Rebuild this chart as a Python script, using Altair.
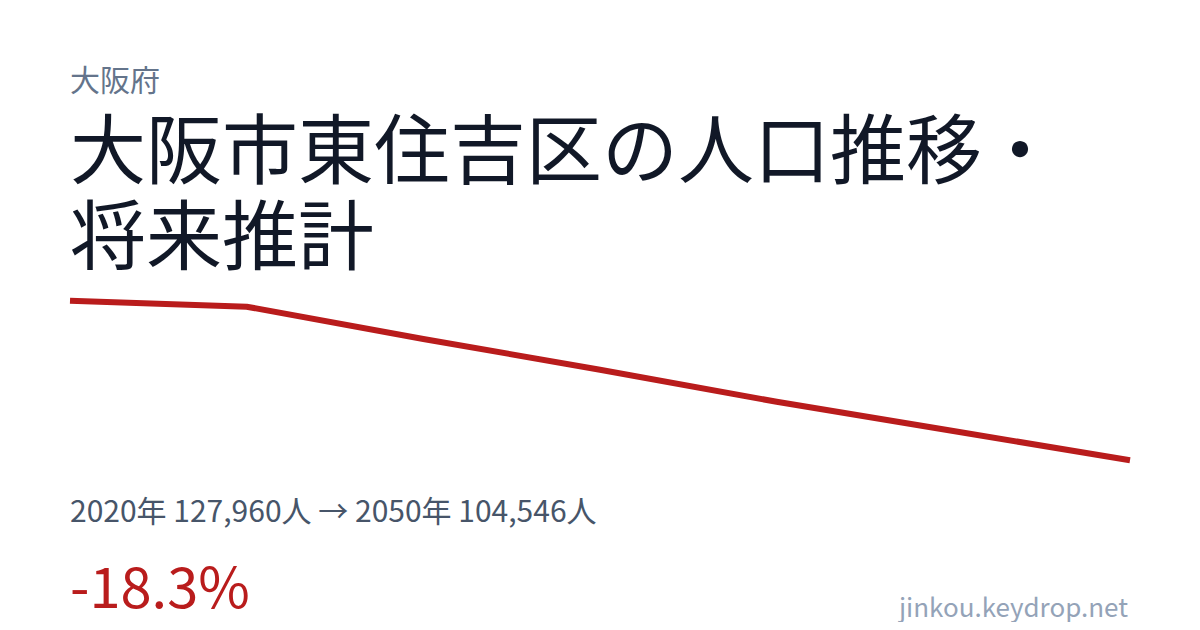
import altair as alt
import pandas as pd

# ---- data ----
years = [2020, 2025, 2030, 2035, 2040, 2045, 2050]
population = [127960, 127080, 122340, 117840, 113130, 108850, 104546]

prefecture = "大阪府"
title_lines = ["大阪市東住吉区の人口推移・", "将来推計"]
site = "jinkou.keydrop.net"

first_year, last_year = years[0], years[-1]
first_pop, last_pop = population[0], population[-1]
change = (last_pop - first_pop) / first_pop * 100
summary = f"{first_year}年 {first_pop:,}人 → {last_year}年 {last_pop:,}人"
change_text = f"{change:.1f}%"

df = pd.DataFrame({"year": years, "pop": population})

W, H = 1184, 614
FONT = "Noto Sans CJK JP"

line = alt.Chart(df).mark_line(color="#b91c1c", strokeWidth=6, strokeCap="butt", strokeJoin="round").encode(
    x=alt.X("year:Q", scale=alt.Scale(domain=[first_year, last_year], range=[62, 1122]), axis=None),
    y=alt.Y("pop:Q", scale=alt.Scale(domain=[last_pop, first_pop], range=[452.3, 292.7], zero=False), axis=None),
)

def label(text, x, y, size, color, align="left"):
    return alt.Chart(pd.DataFrame({"t": [text]})).mark_text(
        font=FONT, fontSize=size, color=color, align=align, baseline="alphabetic"
    ).encode(text="t:N", x=alt.value(x), y=alt.value(y))

texts = [
    label(prefecture, 62, 83, 30, "#64748b"),
    label(title_lines[0], 62, 170, 76, "#111827"),
    label(title_lines[1], 62, 256, 76, "#111827"),
    label(summary, 62, 514, 30, "#475569"),
    label(change_text, 62, 600, 56, "#b91c1c"),
    label(site, 1120, 609, 26, "#94a3b8", align="right"),
]

chart = alt.layer(line, *texts).properties(
    width=W, height=H, padding=0, autosize=alt.AutoSizeParams(type="none"),
    background="#ffffff",
).configure_view(stroke=None)

chart.save("out.html", embed_options={"renderer": "svg", "actions": False})
